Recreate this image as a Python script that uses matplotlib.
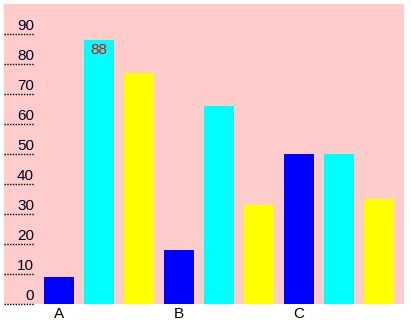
import matplotlib
matplotlib.use("Agg")
import matplotlib.pyplot as plt
import matplotlib.transforms as mtransforms

categories = ["A", "B", "C"]
series_blue = [9, 18, 50]
series_cyan = [88, 66, 50]
series_yellow = [77, 33, 35]
series = [series_blue, series_cyan, series_yellow]
colors = ["#0000FF", "#00FFFF", "#FFFF00"]
yticks = [0, 10, 20, 30, 40, 50, 60, 70, 80, 90]

W, H = 411, 320
fig = plt.figure(figsize=(W / 100, H / 100), dpi=100)
ax = fig.add_axes([4 / W, 16 / H, 400 / W, 300 / H])
ax.set_facecolor("#FFCCCC")
for s in ax.spines.values():
    s.set_visible(False)

n_series = len(series)
for si, vals in enumerate(series):
    xs = [g * n_series + si for g in range(len(categories))]
    ax.bar(xs, vals, width=0.75, color=colors[si], zorder=2)

# data label on the tallest cyan bar
ax.text(1, series_cyan[0] - 1.0, str(series_cyan[0]), color="#FF0000",
        ha="center", va="top", fontsize=11, family="Liberation Sans", zorder=3)

ax.set_xlim(-1.375, 8.625)
ax.set_ylim(0, 100)

ax.set_xticks([g * n_series for g in range(len(categories))])
ax.set_xticklabels(categories, fontsize=11, family="Liberation Sans")
ax.tick_params(axis="x", length=0, pad=2)
ax.set_yticks([])

trans = mtransforms.blended_transform_factory(ax.transAxes, ax.transData)
for v in yticks:
    ax.plot([0, 0.075], [v, v], transform=trans, color="black",
            linestyle=(0, (1, 1)), linewidth=1, zorder=3, clip_on=False)
    ax.text(0.075, v + 0.4, str(v), transform=trans, ha="right", va="bottom",
            fontsize=11, family="Liberation Sans", color="#000022", zorder=3)

fig.savefig("out.png", dpi=100, facecolor="white")
